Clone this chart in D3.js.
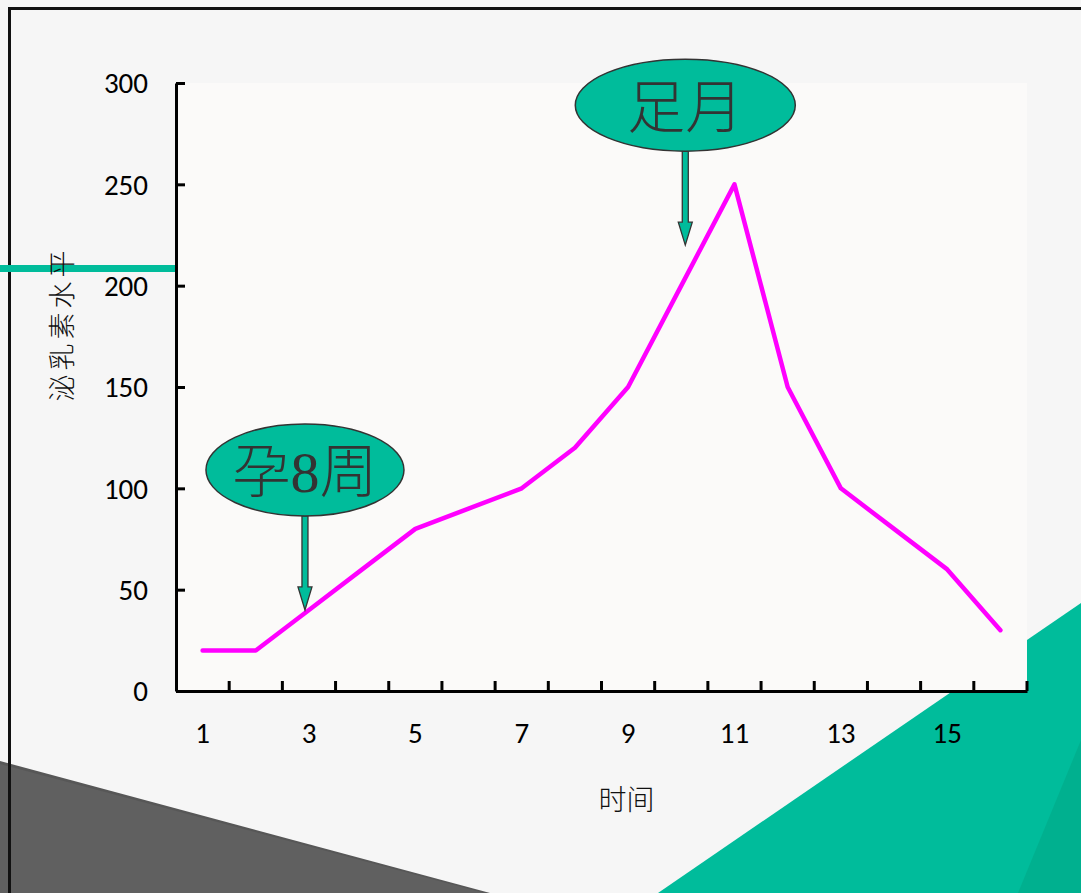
<!DOCTYPE html>
<html>
<head>
<meta charset="utf-8">
<script src="https://cdn.jsdelivr.net/npm/d3@7/dist/d3.min.js"></script>
<style>
  html, body { margin: 0; padding: 0; background: #f6f6f6; overflow: hidden; }
  svg { display: block; }
</style>
</head>
<body>
<svg id="chart" width="1081" height="893"></svg>
<script>
// Prolactin level over time
const categories = ["1","2","3","4","5","6","7","8","9","10","11","12","13","14","15","16"];
const prolactin  = [20, 20, 40, 60, 80, 90, 100, 120, 150, 200, 250, 150, 100, 80, 60, 30];
const xTickLabels = ["1","3","5","7","9","11","13","15"];
const yTickValues = [0, 50, 100, 150, 200, 250, 300];
const xTitle = "时间";
const yTitle = "泌乳素水平";
// Callouts pointing at moments on the curve
const calloutText  = ["孕8周", "足月"];
const calloutCat   = ["3", "10"];
const calloutValue = [40, 220];

const W = 1081, H = 893;
const plot = { left: 176, right: 1027, top: 83, bottom: 691 };
const teal = "#00bc9b";
const tickFont = "Carlito, 'Liberation Sans Narrow', 'Liberation Sans', sans-serif";
const cjkFont = "'Liberation Serif', 'Noto Sans CJK SC', serif";

const svg = d3.select("#chart");

// ---- slide decoration ----
const deco = svg.append("g");
deco.append("rect").attr("width", W).attr("height", H).attr("fill", "#f6f6f6");
// teal corner
deco.append("polygon").attr("points", "1081,603 658,893 1081,893").attr("fill", teal);
deco.append("polygon").attr("points", "1081,740 1018,893 1081,893").attr("fill", "#00b08f");
// dark corner with a thin shadow edge
deco.append("polygon").attr("points", "0,761 490,893 0,893").attr("fill", "#575757");
deco.append("polygon").attr("points", "0,764 484,893 0,893").attr("fill", "#606060");
// frame
deco.append("rect").attr("x", 9.5).attr("y", 8.5).attr("width", 1200).attr("height", 1000)
  .attr("fill", "none").attr("stroke", "#111").attr("stroke-width", 3);
// teal rule at left
deco.append("rect").attr("x", 0).attr("y", 265).attr("width", plot.left).attr("height", 7).attr("fill", teal);

// ---- scales ----
const x = d3.scaleBand().domain(categories).range([plot.left, plot.right]).padding(0);
const y = d3.scaleLinear().domain([0, 300]).range([plot.bottom, plot.top]);
const bw = x.bandwidth();
const cx = c => x(c) + bw / 2;

// plot background
svg.append("rect")
  .attr("x", plot.left).attr("y", plot.top)
  .attr("width", plot.right - plot.left).attr("height", plot.bottom - plot.top + 2)
  .attr("fill", "#fbfaf9");

// ---- y axis ----
const yAxis = svg.append("g")
  .attr("transform", `translate(${plot.left},0)`)
  .call(d3.axisLeft(y).tickValues(yTickValues).tickSizeInner(-9).tickSizeOuter(0).tickPadding(28));
yAxis.select(".domain").attr("stroke", "#000").attr("stroke-width", 3);
yAxis.selectAll(".tick line").attr("stroke", "#000").attr("stroke-width", 3);
yAxis.selectAll(".tick text")
  .attr("font-family", tickFont).attr("font-size", 29).attr("fill", "#000").attr("dy", "0.34em");

// ---- x axis ----
const xAxis = svg.append("g")
  .attr("transform", `translate(0,${plot.bottom})`)
  .call(d3.axisBottom(x).tickValues(xTickLabels).tickSize(0).tickSizeOuter(0).tickPadding(31));
xAxis.select(".domain").attr("stroke", "#000").attr("stroke-width", 3);
xAxis.selectAll(".tick text")
  .attr("font-family", tickFont).attr("font-size", 29).attr("fill", "#000");
// tick marks at the category boundaries, pointing into the plot
xAxis.selectAll("line.boundary")
  .data(categories)
  .join("line")
  .attr("class", "boundary")
  .attr("x1", c => x(c) + bw).attr("x2", c => x(c) + bw)
  .attr("y1", 0).attr("y2", -10)
  .attr("stroke", "#000").attr("stroke-width", 3);

// ---- axis titles ----
svg.append("text")
  .attr("x", (plot.left + plot.right) / 2 + 25).attr("y", 800)
  .attr("text-anchor", "middle").attr("dominant-baseline", "central")
  .attr("font-family", cjkFont).attr("font-size", 28).attr("font-weight", 300).attr("fill", "#111")
  .text(xTitle);
svg.append("text")
  .attr("transform", "translate(63,324) rotate(-90)")
  .attr("text-anchor", "middle").attr("dominant-baseline", "central")
  .attr("font-family", cjkFont).attr("font-size", 27).attr("font-weight", 300).attr("letter-spacing", 4)
  .attr("fill", "#111")
  .text(yTitle);

// ---- the curve ----
const series = categories.map((c, i) => ({ c, v: prolactin[i] }));
svg.append("path")
  .datum(series)
  .attr("fill", "none")
  .attr("stroke", "#ff00ff")
  .attr("stroke-width", 4.5)
  .attr("stroke-linejoin", "round")
  .attr("stroke-linecap", "round")
  .attr("d", d3.line().x(d => cx(d.c)).y(d => y(d.v)));

// ---- callouts: oval label with an arrow down to the curve ----
const callouts = calloutText.map((t, i) => ({ t, c: calloutCat[i], v: calloutValue[i], i }));
const cg = svg.append("g").selectAll("g").data(callouts).join("g")
  .attr("transform", d => `translate(${cx(d.c) + (d.i === 0 ? -4 : 4)},${y(d.v)})`);

const ry = 46;
cg.append("path")
  .attr("d", d => {
    const top = -140 + ry, base = -23, sw = 3, hw = 7;
    return `M${-sw},${top} L${sw},${top} L${sw},${base} L${hw},${base} L0,0 L${-hw},${base} L${-sw},${base} Z`;
  })
  .attr("fill", teal).attr("stroke", "#333").attr("stroke-width", 1.3);
cg.append("ellipse")
  .attr("cx", 0).attr("cy", -140)
  .attr("rx", d => d.i === 0 ? 99 : 110).attr("ry", ry)
  .attr("fill", teal).attr("stroke", "#333").attr("stroke-width", 1.5);
cg.append("text")
  .attr("x", 0).attr("y", -137)
  .attr("text-anchor", "middle").attr("dominant-baseline", "central")
  .attr("font-family", cjkFont).attr("font-size", 58).attr("font-weight", 300).attr("fill", "#333")
  .text(d => d.t);
</script>
</body>
</html>
